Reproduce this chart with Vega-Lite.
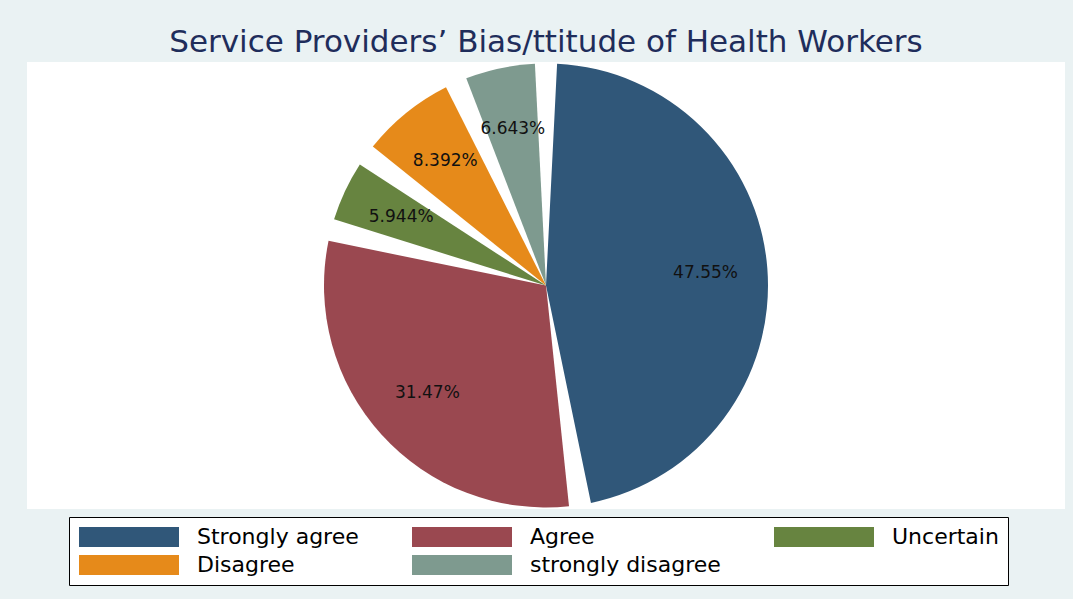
{
  "$schema": "https://vega.github.io/schema/vega-lite/v6.json",
  "autosize": {"type": "none"},
  "padding": {"left": 27, "top": 62, "right": 8, "bottom": 90},
  "width": 1038,
  "height": 447,
  "background": "#eaf2f3",
  "view": {"fill": "white", "stroke": null},
  "title": {
    "text": "Service Providers’ Bias/ttitude of Health Workers",
    "font": "DejaVu Sans",
    "fontSize": 31,
    "fontWeight": "normal",
    "color": "#1f2d5b",
    "anchor": "middle",
    "offset": 3
  },
  "data": {
    "values": [
      {"response": "Strongly agree", "pct": 47.55, "label": "47.55%", "ord": 1},
      {"response": "Agree", "pct": 31.47, "label": "31.47%", "ord": 2},
      {"response": "Uncertain", "pct": 5.944, "label": "5.944%", "ord": 3},
      {"response": "Disagree", "pct": 8.392, "label": "8.392%", "ord": 4},
      {"response": "strongly disagree", "pct": 6.643, "label": "6.643%", "ord": 5}
    ]
  },
  "encoding": {
    "theta": {"field": "pct", "type": "quantitative", "stack": true},
    "order": {"field": "ord", "type": "quantitative"}
  },
  "layer": [
    {
      "mark": {"type": "arc", "radius": 222, "padAngle": 0.1, "stroke": null},
      "encoding": {
        "color": {
          "field": "response",
          "type": "nominal",
          "sort": ["Strongly agree", "Agree", "Uncertain", "Disagree", "strongly disagree"],
          "scale": {
            "domain": ["Strongly agree", "Agree", "Uncertain", "Disagree", "strongly disagree"],
            "range": ["#305779", "#9a4850", "#678440", "#e68a1a", "#7e9a8f"]
          },
          "legend": {
            "title": null,
            "orient": "none",
            "legendX": 42,
            "legendY": 455,
            "direction": "horizontal",
            "columns": 3,
            "symbolType": "M-1,-1H9V1H-1Z",
            "symbolSize": 400,
            "symbolStrokeWidth": 0,
            "symbolOpacity": 1,
            "labelFont": "DejaVu Sans",
            "labelFontSize": 22,
            "labelColor": "black",
            "labelOffset": 97,
            "labelLimit": 0,
            "columnPadding": 52,
            "rowPadding": 6,
            "padding": 9,
            "fillColor": "white",
            "strokeColor": "black",
            "cornerRadius": 0
          }
        }
      }
    },
    {
      "mark": {"type": "text", "radius": 160, "font": "DejaVu Sans", "fontSize": 17, "color": "#111111", "align": "center", "baseline": "middle"},
      "encoding": {
        "text": {"field": "label", "type": "nominal"}
      }
    }
  ]
}
